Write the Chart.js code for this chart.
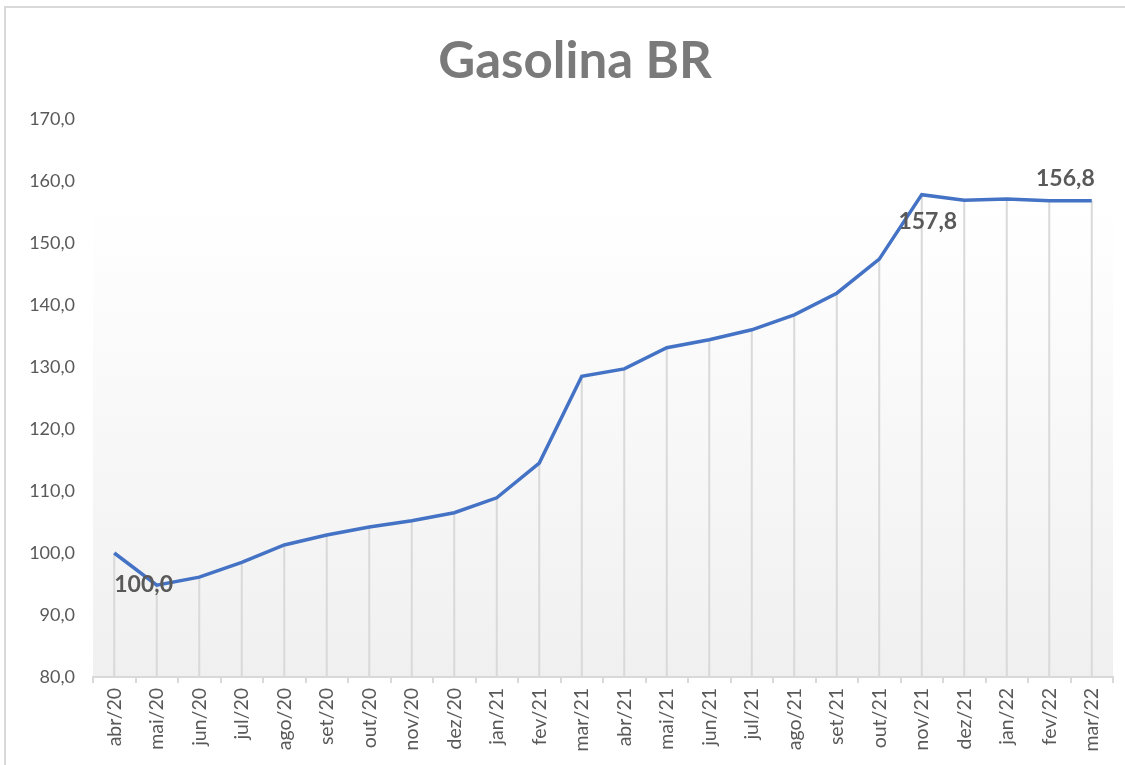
<!DOCTYPE html>
<html>
<head>
<meta charset="utf-8">
<script src="https://cdn.jsdelivr.net/npm/chart.js@4/dist/chart.umd.min.js"></script>
<style>
  html, body { margin: 0; padding: 0; background: #fff; }
  #wrap { position: relative; width: 1125px; height: 765px; overflow: hidden; }
  #moldura { position: absolute; left: 4px; top: 6px; width: 1140px; height: 780px;
             border: 2px solid #d9d9d9; pointer-events: none; }
</style>
</head>
<body>
<div id="wrap">
  <canvas id="chartGasolina" width="1125" height="765"></canvas>
  <div id="moldura"></div>
</div>
<script>
// Dados do gráfico (índice, abr/20 = 100)
const meses = ['abr/20', 'mai/20', 'jun/20', 'jul/20', 'ago/20', 'set/20', 'out/20', 'nov/20',
               'dez/20', 'jan/21', 'fev/21', 'mar/21', 'abr/21', 'mai/21', 'jun/21', 'jul/21',
               'ago/21', 'set/21', 'out/21', 'nov/21', 'dez/21', 'jan/22', 'fev/22', 'mar/22'];
const indiceGasolina = [100.0, 94.8, 96.1, 98.5, 101.3, 102.9, 104.2, 105.2,
                        106.5, 108.9, 114.5, 128.5, 129.7, 133.1, 134.4, 136.0,
                        138.4, 141.9, 147.4, 157.8, 156.9, 157.1, 156.8, 156.8];
const eixoY = { min: 80, max: 170, passo: 10 };
const pontosRotulados = [0, 19, 23];
const titulo = 'Gasolina BR';

const fmt = v => v.toFixed(1).replace('.', ',');
const fonte = 'Lato, "Open Sans", sans-serif';

// Título desenhado à mão (centro da moldura, não do canvas)
const tituloPlugin = {
    id: 'tituloPlugin',
    afterDraw(chart) {
        const { ctx } = chart;
        ctx.save();
        ctx.font = 'bold 51px ' + fonte;
        ctx.fillStyle = '#7a7a7a';
        ctx.textAlign = 'center';
        ctx.textBaseline = 'middle';
        ctx.fillText(titulo, 575, 62);
        ctx.restore();
    }
};

// Fundo em degradê da área do gráfico
const fundoDegrade = {
    id: 'fundoDegrade',
    beforeDraw(chart) {
        const { ctx, chartArea: a } = chart;
        const g = ctx.createLinearGradient(0, a.top, 0, a.bottom);
        g.addColorStop(0, '#ffffff');
        g.addColorStop(0.15, '#ffffff');
        g.addColorStop(1, '#f0f0f0');
        ctx.save();
        ctx.fillStyle = g;
        ctx.fillRect(a.left, a.top, a.right - a.left, a.bottom - a.top);
        ctx.restore();
    }
};

// Linhas verticais do ponto até o eixo
const linhasQueda = {
    id: 'linhasQueda',
    beforeDatasetsDraw(chart) {
        const { ctx, chartArea: a } = chart;
        const meta = chart.getDatasetMeta(0);
        ctx.save();
        ctx.strokeStyle = '#d9d9d9';
        ctx.lineWidth = 2;
        meta.data.forEach(p => {
            ctx.beginPath();
            ctx.moveTo(p.x, p.y);
            ctx.lineTo(p.x, a.bottom);
            ctx.stroke();
        });
        ctx.restore();
    }
};

// Rótulos de dados (posição relativa ao ponto)
const deslocRotulos = { 0: [0, 32, 'left'], 19: [6, 27, 'center'], 23: [3, -22, 'right'] };
const rotulos = {
    id: 'rotulos',
    afterDatasetsDraw(chart) {
        const { ctx } = chart;
        const meta = chart.getDatasetMeta(0);
        ctx.save();
        ctx.font = 'bold 23px ' + fonte;
        ctx.fillStyle = '#595959';
        ctx.textBaseline = 'middle';
        pontosRotulados.forEach(i => {
            const p = meta.data[i];
            const [dx, dy, al] = deslocRotulos[i];
            ctx.textAlign = al;
            ctx.fillText(fmt(indiceGasolina[i]), p.x + dx, p.y + dy);
        });
        ctx.restore();
    }
};

const ctx = document.getElementById('chartGasolina').getContext('2d');
new Chart(ctx, {
    type: 'line',
    data: {
        labels: meses,
        datasets: [{
            label: titulo,
            data: indiceGasolina,
            borderColor: '#4472c4',
            borderWidth: 3.5,
            pointRadius: 0,
            tension: 0,
            fill: false
        }]
    },
    options: {
        responsive: false,
        animation: false,
        layout: { padding: { left: 0, right: 12, top: 119, bottom: 0 } },
        plugins: {
            legend: { display: false },
            tooltip: { enabled: false },
            title: { display: false }
        },
        scales: {
            x: {
                offset: true,
                grid: { display: true, drawOnChartArea: false, drawTicks: true, tickLength: 6,
                        offset: true, color: '#d9d9d9', lineWidth: 2 },
                border: { display: true, color: '#d9d9d9', width: 2 },
                ticks: { color: '#595959', font: { family: fonte, size: 19.5 },
                         maxRotation: 90, minRotation: 90, padding: 5, autoSkip: false },
                afterFit(scale) { scale.height = 88; }
            },
            y: {
                min: eixoY.min,
                max: eixoY.max,
                grid: { display: false },
                border: { display: false },
                ticks: { stepSize: eixoY.passo, color: '#595959', padding: 10,
                         font: { family: fonte, size: 18 },
                         callback: v => fmt(v) },
                afterFit(scale) { scale.width = 93; }
            }
        }
    },
    plugins: [fundoDegrade, linhasQueda, rotulos, tituloPlugin]
});
</script>
</body>
</html>
